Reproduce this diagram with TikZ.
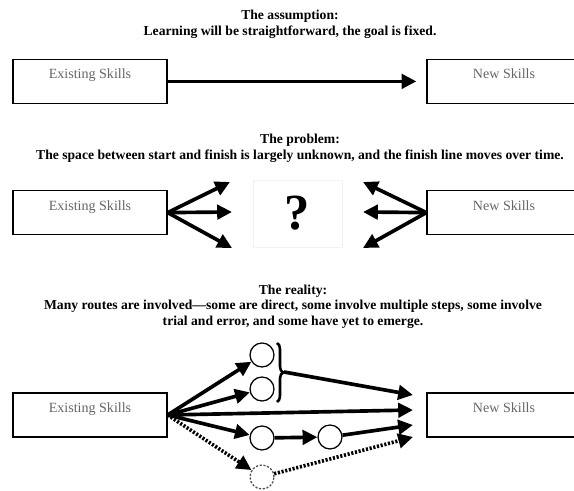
\documentclass[tikz,border=0pt]{standalone}
\usepackage{fontspec}
\setmainfont{Liberation Serif}
\usetikzlibrary{arrows.meta,decorations.pathreplacing}

\tikzset{
  skillbox/.style={draw, line width=0.9pt, minimum width=3.85cm, inner ysep=0.2cm,
    text height=0.29cm, text depth=0.41cm, text=black!60,
    font=\fontsize{10}{11}\selectfont},
  heading/.style={align=center, font=\fontsize{9.7}{11.2}\selectfont\bfseries},
  route/.style={line width=2.6pt, -{Triangle[length=0.37cm,width=0.36cm]}},
  guess/.style={dash pattern=on 1.5pt off 1.2pt},
  stopover/.style={circle, draw, line width=0.9pt, minimum size=0.6cm, inner sep=0pt}
}

\begin{document}
\begin{tikzpicture}
    \useasboundingbox (0,0) rectangle (14.35,12.275);

    % the assumption
    \node[heading] (head1) at (7.25,11.66) {The assumption:\\Learning will be straightforward, the goal is fixed.};
    \node[skillbox] (ex1) at (2.25,10.24) {Existing Skills};
    \node[skillbox] (new1) at (12.6,10.24) {New Skills};
    \draw[route, shorten >=0.25cm] (ex1.east) -- (new1.west);

    % the problem
    \node[heading] (head2) at (7.5,8.56) {The problem:\\The space between start and finish is largely unknown, and the finish line moves over time.};
    \node[skillbox] (ex2) at (2.25,6.96) {Existing Skills};
    \node[skillbox] (new2) at (12.6,6.96) {New Skills};
    \node[draw=black!5, minimum width=2.225cm, minimum height=1.675cm,
      font=\fontsize{36}{36}\selectfont\bfseries] (unknown) at (7.44,6.94) {?};
    \coordinate (l1) at (5.75,7.725);
    \coordinate (l2) at (5.8,6.975);
    \coordinate (l3) at (5.8,6.075);
    \coordinate (r1) at (9.075,7.725);
    \coordinate (r2) at (9.075,6.975);
    \coordinate (r3) at (9.075,6.075);
    \foreach \t in {l1,l2,l3}
      \draw[route] (ex2.east) -- (\t);
    \foreach \t in {r1,r2,r3}
      \draw[route] (new2.west) -- (\t);

    % the reality
    \node[heading] (head3) at (7.325,4.61) {The reality:\\Many routes are involved---some are direct, some involve multiple steps, some involve\\trial and error, and some have yet to emerge.};
    \node[skillbox] (ex3) at (2.25,1.9) {Existing Skills};
    \node[skillbox] (new3) at (12.6,1.9) {New Skills};
    \node[stopover] (c1) at (6.55,3.4) {};
    \node[stopover] (c2) at (6.55,2.55) {};
    \node[stopover] (c3) at (6.55,1.325) {};
    \node[stopover] (c4) at (8.25,1.35) {};
    \node[stopover, draw=black!70, guess] (c5) at (6.55,0.35) {};
    \draw[line width=1.8pt, decorate, decoration={brace, amplitude=0.15cm}]
      (6.925,3.7) -- (6.925,2.225);
    \coordinate (tip) at (7.1,2.975);
    \coordinate (e1) at (10.325,2.4);
    \coordinate (e2) at (10.325,2.025);
    \coordinate (e3) at (10.325,1.65);
    \coordinate (e4) at (10.325,1.35);
    \draw[route] (ex3.east) -- (c1);
    \draw[route] (ex3.east) -- (c2);
    \draw[route] (ex3.east) -- (e2);
    \draw[route] (ex3.east) -- (c3);
    \draw[route, guess] (ex3.east) -- (c5);
    \draw[route] (tip) -- (e1);
    \draw[route] (c3) -- (c4);
    \draw[route] (c4) -- (e3);
    \draw[route, guess] (c5) -- (e4);
\end{tikzpicture}
\end{document}
